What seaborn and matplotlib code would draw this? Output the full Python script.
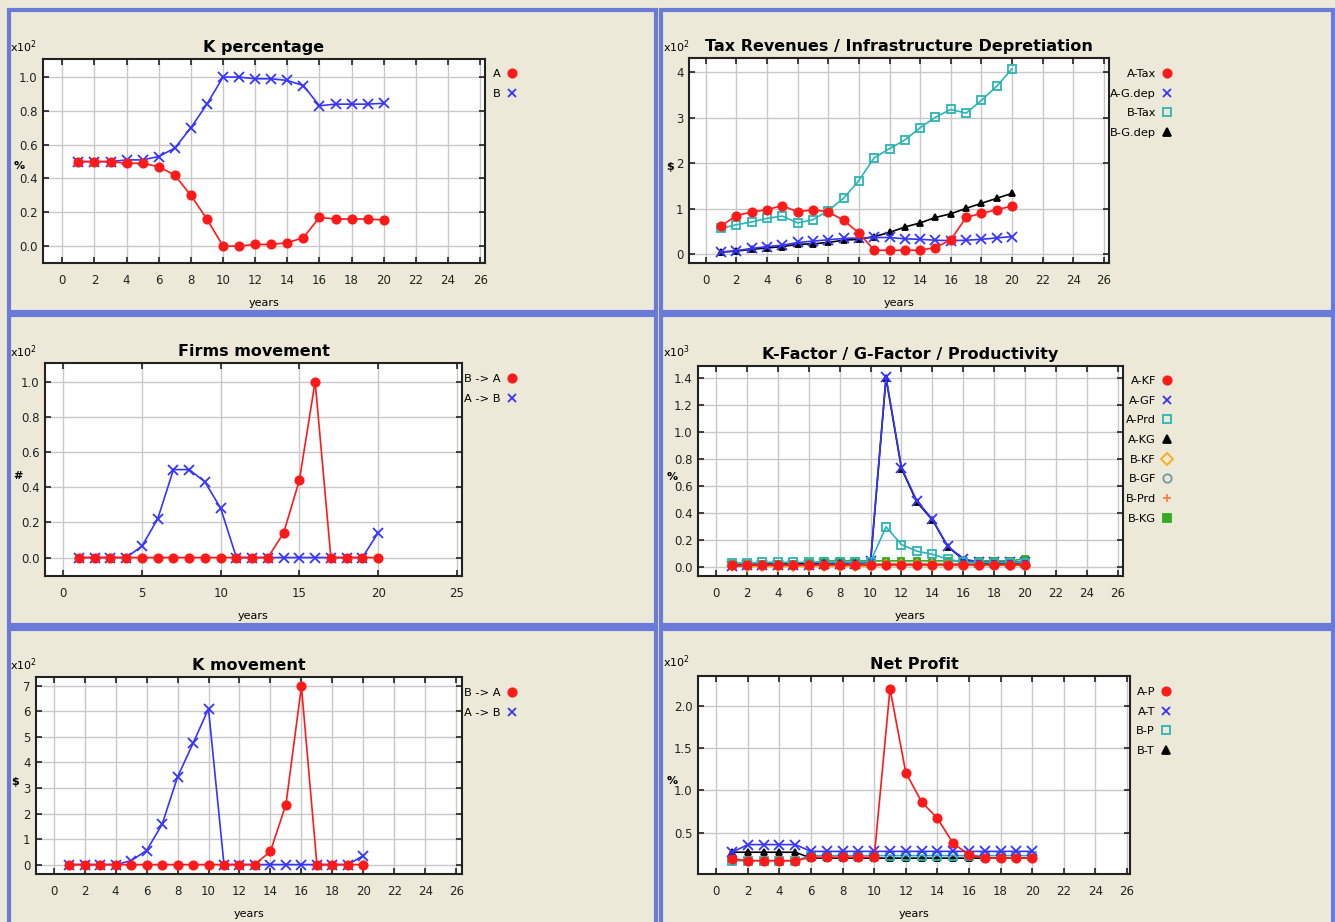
import matplotlib
matplotlib.use("Agg")
import matplotlib.pyplot as plt
import seaborn as sns
from matplotlib.lines import Line2D
from matplotlib.patches import Rectangle

# valori (scala indicata con x10^n)
years = list(range(1, 21))

kp_a = [0.50, 0.50, 0.50, 0.49, 0.49, 0.47, 0.42, 0.30, 0.16, 0.00,
        0.00, 0.01, 0.01, 0.02, 0.05, 0.17, 0.16, 0.16, 0.16, 0.155]
kp_b = [0.50, 0.50, 0.50, 0.51, 0.51, 0.53, 0.58, 0.70, 0.84, 1.00,
        1.00, 0.99, 0.99, 0.98, 0.95, 0.83, 0.84, 0.84, 0.84, 0.845]

tax_a = [0.62, 0.85, 0.93, 0.98, 1.07, 0.93, 0.98, 0.93, 0.75, 0.47,
         0.09, 0.09, 0.09, 0.09, 0.15, 0.32, 0.81, 0.90, 0.98, 1.06]
gdep_a = [0.05, 0.08, 0.13, 0.17, 0.20, 0.26, 0.29, 0.32, 0.35, 0.36,
          0.37, 0.37, 0.34, 0.33, 0.31, 0.30, 0.31, 0.33, 0.36, 0.39]
tax_b = [0.57, 0.65, 0.71, 0.79, 0.84, 0.69, 0.76, 0.96, 1.23, 1.62,
         2.12, 2.32, 2.51, 2.78, 3.01, 3.18, 3.10, 3.38, 3.69, 4.07]
gdep_b = [0.05, 0.07, 0.11, 0.14, 0.17, 0.22, 0.23, 0.26, 0.31, 0.33,
          0.39, 0.48, 0.60, 0.69, 0.81, 0.89, 1.01, 1.12, 1.23, 1.34]

firms_ba = [0, 0, 0, 0, 0, 0, 0, 0, 0, 0,
            0, 0, 0, 0.14, 0.44, 1.00, 0, 0, 0, 0]
firms_ab = [0, 0, 0, 0, 0.065, 0.22, 0.50, 0.50, 0.43, 0.28,
            0, 0, 0, 0, 0, 0, 0, 0, 0, 0.14]

kf_a = [0.012, 0.013, 0.014, 0.014, 0.014, 0.015, 0.015, 0.015, 0.015, 0.015,
        0.016, 0.016, 0.016, 0.016, 0.016, 0.016, 0.016, 0.016, 0.016, 0.016]
gf_a = [0.005, 0.012, 0.015, 0.015, 0.015, 0.018, 0.02, 0.02, 0.025, 0.045,
        1.41, 0.737, 0.489, 0.355, 0.154, 0.06, 0.037, 0.037, 0.037, 0.037]
prd_a = [0.03, 0.03, 0.035, 0.035, 0.035, 0.035, 0.035, 0.035, 0.035, 0.04,
         0.298, 0.166, 0.117, 0.094, 0.057, 0.037, 0.033, 0.033, 0.033, 0.033]
kg_a = [0.012, 0.015, 0.02, 0.02, 0.02, 0.025, 0.03, 0.03, 0.03, 0.035,
        1.40, 0.73, 0.48, 0.35, 0.15, 0.055, 0.03, 0.03, 0.03, 0.03]
kf_b = [0.004, 0.004, 0.004, 0.004, 0.004, 0.004, 0.005, 0.005, 0.005, 0.006,
        0.012, 0.012, 0.012, 0.012, 0.012, 0.012, 0.012, 0.012, 0.012, 0.012]
gf_b = [0.02, 0.02, 0.02, 0.02, 0.02, 0.02, 0.02, 0.02, 0.02, 0.02,
        0.02, 0.02, 0.02, 0.02, 0.02, 0.02, 0.02, 0.02, 0.02, 0.02]
prd_b = [0.008, 0.008, 0.008, 0.008, 0.008, 0.008, 0.01, 0.01, 0.01, 0.012,
         0.025, 0.025, 0.025, 0.025, 0.025, 0.025, 0.025, 0.025, 0.025, 0.025]
kg_b = [0.025, 0.025, 0.025, 0.025, 0.025, 0.028, 0.045, 0.045, 0.045, 0.045,
        0.045, 0.045, 0.045, 0.045, 0.045, 0.045, 0.045, 0.045, 0.045, 0.06]

kmov_ba = [0, 0, 0, 0, 0, 0, 0, 0, 0, 0,
           0, 0, 0, 0.52, 2.35, 6.98, 0, 0, 0, 0]
kmov_ab = [0, 0, 0, 0, 0.15, 0.55, 1.57, 3.43, 4.75, 6.10,
           0, 0, 0, 0, 0, 0, 0, 0, 0, 0.35]

np_ap = [0.19, 0.17, 0.17, 0.17, 0.17, 0.21, 0.21, 0.21, 0.21, 0.21,
         2.20, 1.21, 0.865, 0.67, 0.375, 0.24, 0.20, 0.20, 0.20, 0.20]
np_at = [0.27, 0.36, 0.36, 0.36, 0.36, 0.28, 0.28, 0.28, 0.28, 0.28,
         0.28, 0.28, 0.28, 0.28, 0.28, 0.28, 0.28, 0.28, 0.28, 0.28]
np_bp = [0.17, 0.17, 0.17, 0.17, 0.17, 0.23, 0.23, 0.23, 0.23, 0.23,
         0.23, 0.23, 0.23, 0.23, 0.23, 0.23, 0.23, 0.23, 0.23, 0.23]
np_bt = [0.27, 0.27, 0.27, 0.27, 0.27, 0.20, 0.20, 0.20, 0.20, 0.20,
         0.20, 0.20, 0.20, 0.20, 0.20, 0.20, 0.20, 0.20, 0.20, 0.20]

# stili: (colore, marker, pieno?)
RED = ("#ff1a1a", "o", True)
BLUE = ("#3535ff", "x", True)
CYAN = ("#2ab5b5", "s", False)
BLACK = ("#000000", "^", True)

W, H = 1335, 922
BG = "#ece9d8"
plt.rcParams["font.family"] = ["DejaVu Sans"]

fig = plt.figure(figsize=(W / 100, H / 100), dpi=100, facecolor=BG)


def add_ax(l, t, r, b):
    return fig.add_axes([l / W, 1 - b / H, (r - l) / W, (b - t) / H])


def ftext(x, y, s, **kw):
    fig.text(x / W, 1 - y / H, s, **kw)


def series(ax, y, style, ms=6):
    color, marker, filled = style
    mfc = color if filled else "none"
    sns.lineplot(x=years, y=y, ax=ax, color=color, linewidth=1.2,
                 marker=marker, markersize=ms, markerfacecolor=mfc,
                 markeredgecolor=color, markeredgewidth=1.3, legend=False)


def legend(ax, labels, styles, marker_x, top_y, ms=6):
    handles = []
    for (color, marker, filled) in styles:
        handles.append(Line2D([], [], linestyle="None", marker=marker, color=color,
                              markersize=ms, markeredgecolor=color, markeredgewidth=1.3,
                              markerfacecolor=color if filled else "none"))
    leg = ax.legend(handles, labels, loc="upper right", frameon=False, markerfirst=False,
                    bbox_to_anchor=((marker_x + 6) / W, 1 - (top_y + 3) / H),
                    bbox_transform=fig.transFigure, borderpad=0, borderaxespad=0,
                    handlelength=1.0, handletextpad=0.5, labelspacing=0.85, fontsize=8.2)
    leg.set_zorder(10)


def setup(ax, title, xlim, ylim, xticks, yticks, yfmt):
    ax.set_facecolor("white")
    ax.set_xlim(xlim)
    ax.set_ylim(ylim)
    ax.set_xticks(xticks)
    ax.set_yticks(yticks)
    ax.set_yticklabels([yfmt.format(v) for v in yticks])
    ax.grid(True, color="#c8c8c8", linewidth=1)
    ax.set_axisbelow(True)
    ax.tick_params(direction="in", top=True, right=True, length=4, width=1.2,
                   labelsize=8.5, colors="#222222")
    ax.tick_params(axis="x", pad=8)
    ax.tick_params(axis="y", pad=4)
    for s in ax.spines.values():
        s.set_linewidth(1.5)
        s.set_color("#222222")
    ax.set_title(title, fontsize=11.5, fontweight="bold", pad=5)
    ax.set_xlabel("years", fontsize=8, labelpad=8)
    ax.set_ylabel("")


x26 = list(range(0, 27, 2))

# pannelli (bordi blu)
for (x0, y0, x1, y1) in [(8.5, 10.5, 655.5, 312.5), (660.5, 10.5, 1333, 312.5),
                         (8.5, 315.5, 655.5, 625), (660.5, 315.5, 1333, 625),
                         (8.5, 628.5, 655.5, 960), (660.5, 628.5, 1333, 960)]:
    fig.patches.append(Rectangle((x0 / W, 1 - y1 / H), (x1 - x0) / W, (y1 - y0) / H,
                                 transform=fig.transFigure, fill=False,
                                 edgecolor="#6a7ad9", linewidth=3.0))

# 1 - K percentage
ax1 = add_ax(43, 59, 485, 263)
series(ax1, kp_b, BLUE, 7)
series(ax1, kp_a, RED)
setup(ax1, "K percentage", (-1.2, 26.3), (-0.10, 1.107), x26,
      [0, 0.2, 0.4, 0.6, 0.8, 1.0], "{:.1f}")
legend(ax1, ["A", "B"], [RED, BLUE], 512, 66)
ftext(10, 52, r"x10$^2$", fontsize=8)
ftext(14, 166, "%", fontsize=8, fontweight="bold", va="center")

# 2 - Tax Revenues
ax2 = add_ax(689, 58, 1109, 263)
series(ax2, gdep_b, BLACK, 5)
series(ax2, tax_b, CYAN)
series(ax2, gdep_a, BLUE, 7)
series(ax2, tax_a, RED)
setup(ax2, "Tax Revenues / Infrastructure Depretiation", (-1.09, 26.33), (-0.19, 4.31),
      x26, [0, 1, 2, 3, 4], "{:.0f}")
legend(ax2, ["A-Tax", "A-G.dep", "B-Tax", "B-G.dep"], [RED, BLUE, CYAN, BLACK], 1167, 66)
ftext(663, 52, r"x10$^2$", fontsize=8)
ftext(666, 167, "$", fontsize=8, fontweight="bold", va="center")

# 3 - Firms movement
ax3 = add_ax(45, 363, 462, 576)
series(ax3, firms_ab, BLUE, 7)
series(ax3, firms_ba, RED)
setup(ax3, "Firms movement", (-1.16, 25.33), (-0.105, 1.106), [0, 5, 10, 15, 20, 25],
      [0, 0.2, 0.4, 0.6, 0.8, 1.0], "{:.1f}")
legend(ax3, ["B -> A", "A -> B"], [RED, BLUE], 512, 371)
ftext(10, 357, r"x10$^2$", fontsize=8)
ftext(13, 476, "#", fontsize=8, fontweight="bold", va="center")

# 4 - K-Factor / G-Factor / Productivity
ORANGE_D = ("#ffaa11", "D", False)
TEAL_O = ("#6a9aa8", "o", False)
ORANGE_P = ("#ff8040", "+", True)
GREEN_S = ("#33aa22", "s", True)
ax4 = add_ax(698, 366, 1123, 576)
series(ax4, kg_b, GREEN_S, 5)
series(ax4, prd_b, ORANGE_P, 7)
series(ax4, gf_b, TEAL_O, 5)
series(ax4, kf_b, ORANGE_D, 5)
series(ax4, kg_a, BLACK, 5)
series(ax4, gf_a, BLUE, 7)
series(ax4, prd_a, CYAN)
series(ax4, kf_a, RED)
setup(ax4, "K-Factor / G-Factor / Productivity", (-1.17, 26.34), (-0.067, 1.49), x26,
      [0, 0.2, 0.4, 0.6, 0.8, 1.0, 1.2, 1.4], "{:.1f}")
legend(ax4, ["A-KF", "A-GF", "A-Prd", "A-KG", "B-KF", "B-GF", "B-Prd", "B-KG"],
       [RED, BLUE, CYAN, BLACK, ORANGE_D, TEAL_O, ORANGE_P, GREEN_S], 1167, 373)
ftext(663, 357, r"x10$^3$", fontsize=8)
ftext(667, 477, "%", fontsize=8, fontweight="bold", va="center")

# 5 - K movement
ax5 = add_ax(36, 677, 462, 874)
series(ax5, kmov_ab, BLUE, 7)
series(ax5, kmov_ba, RED)
setup(ax5, "K movement", (-1.14, 26.37), (-0.37, 7.35), x26,
      [0, 1, 2, 3, 4, 5, 6, 7], "{:.0f}")
legend(ax5, ["B -> A", "A -> B"], [RED, BLUE], 512, 685)
ftext(10, 670, r"x10$^2$", fontsize=8)
ftext(11, 782, "$", fontsize=8, fontweight="bold", va="center")

# 6 - Net Profit
ax6 = add_ax(698, 676, 1130, 874)
series(ax6, np_bt, BLACK, 5)
series(ax6, np_bp, CYAN)
series(ax6, np_at, BLUE, 7)
series(ax6, np_ap, RED)
setup(ax6, "Net Profit", (-1.16, 26.2), (0.013, 2.35), x26,
      [0.5, 1.0, 1.5, 2.0], "{:.1f}")
legend(ax6, ["A-P", "A-T", "B-P", "B-T"], [RED, BLUE, CYAN, BLACK], 1166, 684)
ftext(663, 667, r"x10$^2$", fontsize=8)
ftext(667, 781, "%", fontsize=8, fontweight="bold", va="center")

fig.savefig("out.png", dpi=100, facecolor=BG)
